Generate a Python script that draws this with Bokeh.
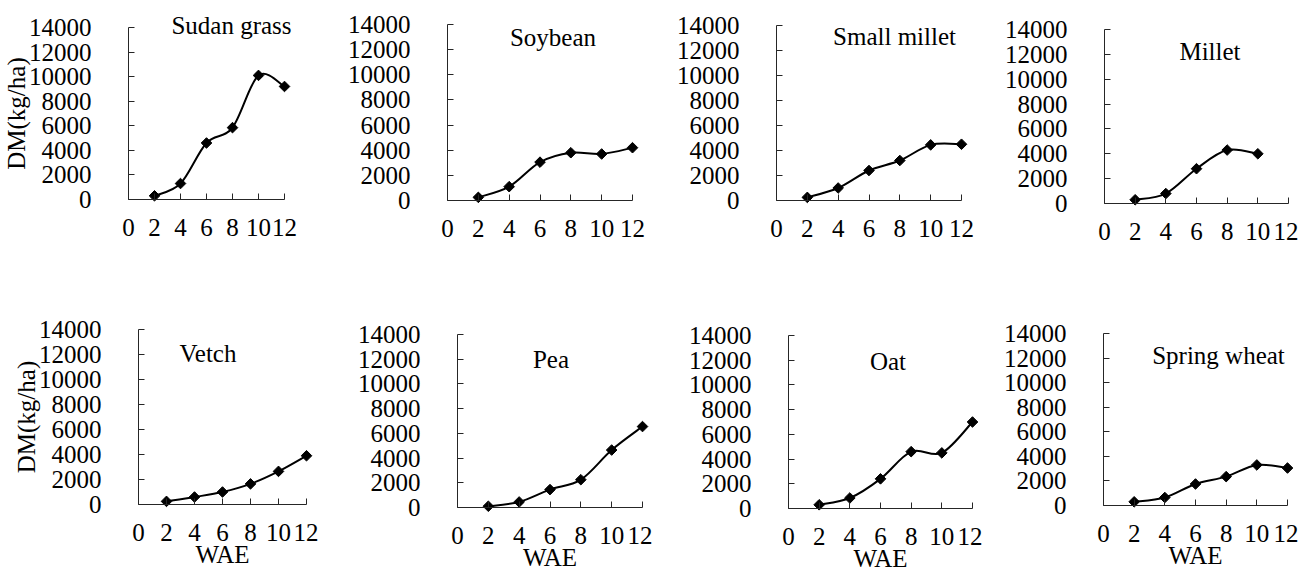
import math
from bokeh.plotting import figure
from bokeh.models import Range1d, FixedTicker, Label, NumeralTickFormatter
from bokeh.layouts import column, row
from bokeh.embed import file_html
from bokeh.resources import INLINE

# ---------------- data ----------------
weeks = [2, 4, 6, 8, 10, 12]
crops = ["Sudan grass", "Soybean", "Small millet", "Millet",
         "Vetch", "Pea", "Oat", "Spring wheat"]
sudan_grass = [300, 1300, 4600, 5850, 10100, 9200]
soybean = [250, 1100, 3050, 3800, 3700, 4200]
small_millet = [250, 1000, 2400, 3200, 4450, 4500]
millet = [300, 800, 2800, 4300, 4000]
vetch = [250, 600, 1000, 1650, 2650, 3900]
pea = [100, 450, 1450, 2250, 4650, 6550]
oat = [300, 850, 2400, 4600, 4500, 7000]
spring_wheat = [300, 650, 1750, 2350, 3300, 3050]
x_ticks = [0, 2, 4, 6, 8, 10, 12]
y_ticks = [0, 2000, 4000, 6000, 8000, 10000, 12000, 14000]
y_axis_label = "DM(kg/ha)"
x_axis_label = "WAE"

series = [sudan_grass, soybean, small_millet, millet, vetch, pea, oat, spring_wheat]

# ---------------- layout (screen pixels) ----------------
# (fig_left, fig_right, fig_top, fig_bottom, x_of_0, x_of_12, y_of_14000, y_of_0, title_cx, title_cy)
panels = [
    (0, 298, 0, 300, 128, 284, 27, 199, 231, 25),
    (298, 647, 0, 300, 447, 632, 24, 200, 552.5, 37),
    (647, 976, 0, 300, 776, 961, 25, 200, 894, 36),
    (976, 1298, 0, 300, 1104, 1288, 29, 203, 1209.5, 51),
    (0, 318, 300, 572, 138, 306, 329, 504, 207.5, 353),
    (318, 652, 300, 572, 457, 642, 334, 507, 550.5, 359),
    (652, 982, 300, 572, 788, 972, 335, 508, 887.5, 361),
    (982, 1298, 300, 572, 1103, 1287, 333, 505, 1218, 355),
]

FONT = "Liberation Serif"
FS = "25px"
AXIS_COLOR = "#262626"


def bezier_segments(xs, ys):
    n = len(xs)
    pts = list(zip(xs, ys))
    out = dict(x0=[], y0=[], x1=[], y1=[], cx0=[], cy0=[], cx1=[], cy1=[])
    for i in range(n - 1):
        p0 = pts[i - 1] if i > 0 else pts[i]
        p1 = pts[i]
        p2 = pts[i + 1]
        p3 = pts[i + 2] if i + 2 < n else pts[i + 1]
        out["x0"].append(p1[0]); out["y0"].append(p1[1])
        out["x1"].append(p2[0]); out["y1"].append(p2[1])
        out["cx0"].append(p1[0] + (p2[0] - p0[0]) / 6.0)
        out["cy0"].append(p1[1] + (p2[1] - p0[1]) / 6.0)
        out["cx1"].append(p2[0] - (p3[0] - p1[0]) / 6.0)
        out["cy1"].append(p2[1] - (p3[1] - p1[1]) / 6.0)
    return out


figs = []
for idx, (name, vals, spec) in enumerate(zip(crops, series, panels)):
    L, R, T, B, ox, x12, y14, y0, tcx, tcy = spec
    W = R - L
    H = B - T
    sx = (x12 - ox) / 12.0
    sy = (y0 - y14) / 14000.0
    xr = Range1d(-(ox - L) / sx, 12 + (R - x12) / sx)
    yr = Range1d(-(B - y0) / sy, 14000 + (y14 - T) / sy)

    p = figure(width=W, height=H, x_range=xr, y_range=yr,
               output_backend="svg", toolbar_location=None, min_border=0)
    p.outline_line_color = None
    p.grid.visible = False
    p.background_fill_color = "white"
    p.border_fill_color = "white"

    xs = weeks[:len(vals)]
    seg = bezier_segments(xs, vals)
    p.bezier(x0=seg["x0"], y0=seg["y0"], x1=seg["x1"], y1=seg["y1"],
             cx0=seg["cx0"], cy0=seg["cy0"], cx1=seg["cx1"], cy1=seg["cy1"],
             line_color="black", line_width=2)
    p.scatter(xs, vals, marker="square", angle=math.pi / 4, size=7.5,
              fill_color="black", line_color="black")

    for ax in (p.xaxis[0], p.yaxis[0]):
        ax.fixed_location = 0
        ax.axis_line_color = AXIS_COLOR
        ax.axis_line_width = 1
        ax.major_tick_line_color = AXIS_COLOR
        ax.major_tick_in = 6
        ax.major_tick_out = 0
        ax.minor_tick_in = 0
        ax.minor_tick_out = 0
        ax.minor_tick_line_color = None
        ax.major_label_text_font = FONT
        ax.major_label_text_font_size = FS
        ax.major_label_text_color = "black"
        ax.axis_label_text_font = FONT
        ax.axis_label_text_font_size = FS
        ax.axis_label_text_font_style = "normal"
        ax.axis_label_text_color = "black"

    p.xaxis[0].bounds = (0, 12)
    p.xaxis[0].ticker = FixedTicker(ticks=x_ticks)
    p.xaxis[0].major_label_standoff = 19
    p.yaxis[0].bounds = (0, 14000)
    p.yaxis[0].ticker = FixedTicker(ticks=y_ticks)
    p.yaxis[0].formatter = NumeralTickFormatter(format="0")
    p.yaxis[0].major_label_standoff = 37

    if idx in (0, 4):
        p.yaxis[0].axis_label = y_axis_label
        p.yaxis[0].axis_label_standoff = -4
    if idx >= 4:
        p.xaxis[0].axis_label = x_axis_label
        p.xaxis[0].axis_label_standoff = -3

    p.add_layout(Label(x=tcx - L, y=B - tcy, x_units="screen", y_units="screen",
                       text=name, text_align="center", text_baseline="middle",
                       text_font=FONT, text_font_size=FS, text_color="black"))
    figs.append(p)

layout = column(row(*figs[:4]), row(*figs[4:]))
open("out.html", "w").write(file_html(layout, INLINE))
